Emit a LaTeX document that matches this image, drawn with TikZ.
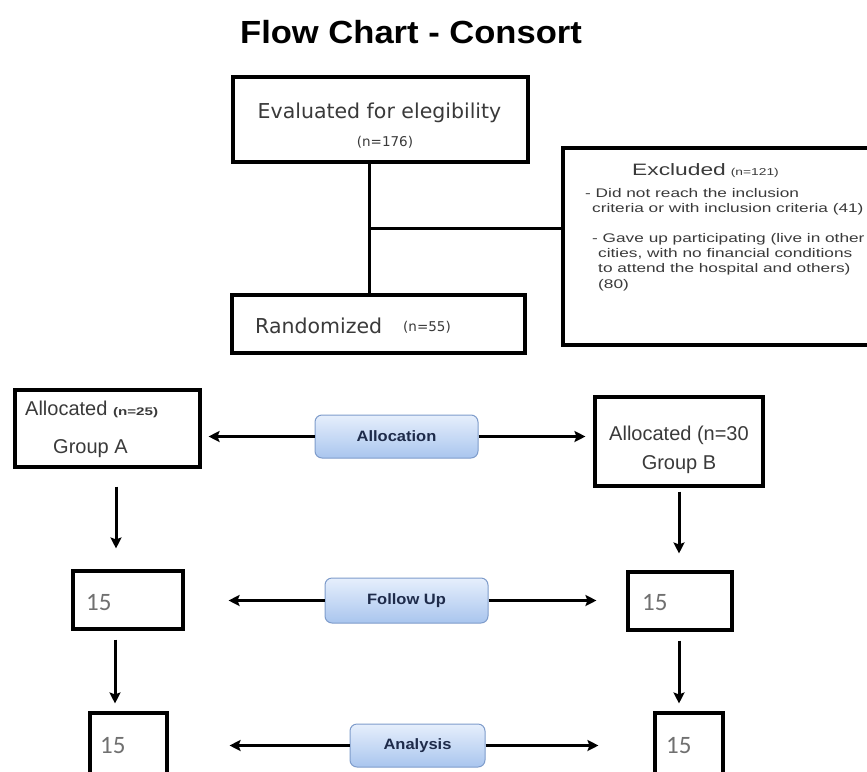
\documentclass[tikz,border=0pt]{standalone}
\usepackage{fontspec}
\setmainfont{Liberation Sans}
\newfontfamily\titlefont[FakeStretch=1.08]{Liberation Sans}
\newfontfamily\verdfont{DejaVu Sans}
\newfontfamily\widefont[FakeStretch=1.38]{Liberation Sans}
\newfontfamily\pillfont[FakeStretch=1.1]{Liberation Sans}
\newfontfamily\calfont{Carlito}
\usetikzlibrary{arrows.meta}
\definecolor{pilltop}{HTML}{E6EFFC}
\definecolor{pillbot}{HTML}{A9C5EE}
\definecolor{pillline}{HTML}{7E9CCB}
\definecolor{pilltext}{HTML}{1E2B4A}
\definecolor{boxtext}{HTML}{3A3A3A}
\definecolor{numtext}{HTML}{707070}
\begin{document}
\begin{tikzpicture}[x=1pt,y=-1pt,
  box/.style={draw, line width=3.1pt, inner sep=0pt},
  pill/.style={draw=pillline, line width=1pt, rounded corners=7pt, top color=pilltop, bottom color=pillbot,
    inner sep=0pt, text=pilltext, font=\pillfont\bfseries\fontsize{15}{15}\selectfont},
  ln/.style={line width=3pt},
  arr/.style={line width=3pt, -{Stealth[length=11pt,width=11pt,inset=2pt]}},
  txt/.style={inner sep=0pt, text=boxtext},
  num/.style={inner sep=0pt, text=numtext, font=\calfont\fontsize{25}{25}\selectfont}]
\useasboundingbox (0,0) rectangle (867,771);
\fill[white] (0,0) rectangle (867,771);
\clip (0,0) rectangle (867,771);

% title
\node[inner sep=0pt, font=\titlefont\bfseries\fontsize{32}{32}\selectfont] (title) at (411,32) {Flow Chart - Consort};

% top boxes
\node[box, minimum width=295pt, minimum height=85pt] (eval) at (380.5,119.5) {};
\node[txt, anchor=base, font=\verdfont\fontsize{20.5}{20.5}\selectfont] (evtxt) at (379.5,118) {Evaluated for elegibility};
\node[txt, anchor=base, font=\verdfont\fontsize{13.5}{13.5}\selectfont] (evn) at (385,146) {(n=176)};

\node[box, minimum width=293pt, minimum height=58pt] (rand) at (378.5,324) {};
\node[txt, anchor=base west, font=\verdfont\fontsize{20.5}{20.5}\selectfont] (randtxt) at (255,333) {Randomized};
\node[txt, anchor=base west, font=\verdfont\fontsize{13.5}{13.5}\selectfont] (randn) at (403,331) {(n=55)};

\node[box, minimum width=322pt, minimum height=197pt] (excl) at (724,246.5) {};
\node[txt, anchor=base west, font=\widefont\fontsize{13}{13}\selectfont] (extxt) at (632,175)
  {{\fontsize{16.5}{16.5}\selectfont Excluded} {\fontsize{10}{10}\selectfont (n=121)}};
\node[txt, anchor=north west, align=left, font=\widefont\fontsize{12.5}{15}\selectfont] (exA) at (585,188)
  {- Did not reach the inclusion\\\hspace*{7pt}criteria or with inclusion criteria (41)};
\node[txt, anchor=north west, align=left, font=\widefont\fontsize{12.5}{15.3}\selectfont] (exB) at (592,233)
  {- Gave up participating (live in other\\\hspace*{6pt}cities, with no financial conditions\\\hspace*{6pt}to attend the hospital and others)\\\hspace*{6pt}(80)};

% draw
\path (369,228) coordinate (junc);
\draw[ln] ([xshift=-11.5pt]eval.south) -- ([xshift=-11.5pt]eval.south |- rand.north);
\draw[ln] (junc) -- (junc -| excl.west);

% allocation row
\node[box, minimum width=185pt, minimum height=77pt] (grpA) at (107.5,428.5) {};
\node[txt, anchor=base west, font=\fontsize{20}{20}\selectfont] (grpAtop) at (25,415)
  {Allocated {\widefont\fontsize{11}{11}\selectfont\bfseries (n=25)}};
\node[txt, anchor=base west, font=\fontsize{20}{20}\selectfont] (grpAbot) at (53,453) {Group A};

\node[box, minimum width=168pt, minimum height=89pt] (grpB) at (679,441.5) {};
\node[txt, anchor=north, align=center, font=\fontsize{20}{29}\selectfont] (grpBtxt) at (679,426)
  {Allocated (n=30\\Group B};

\node[pill, minimum width=163pt, minimum height=43pt] (alloc) at (396.5,436.5) {Allocation};
\draw[arr, shorten >=7pt] (alloc.west) -- (alloc.west -| grpA.east);
\draw[arr, shorten >=8pt] (alloc.east) -- (alloc.east -| grpB.west);

% follow up row
\node[box, minimum width=110pt, minimum height=58pt] (fuA) at (128,600) {};
\node[num, anchor=base west] (fuAtxt) at (86,610) {15};
\node[box, minimum width=104pt, minimum height=58pt] (fuB) at (680,601) {};
\node[num, anchor=base west] (fuBtxt) at (642,610) {15};

\node[pill, minimum width=163pt, minimum height=45pt] (fu) at (406.5,600.5) {Follow Up};
\draw[arr, shorten >=44pt] (fu.west) -- (fu.west -| fuA.east);
\draw[arr, shorten >=30pt] (fu.east) -- (fu.east -| fuB.west);

\draw[arr, shorten <=18pt, shorten >=21pt] ([xshift=8.5pt]grpA.south) -- ([xshift=8.5pt]grpA.south |- fuA.north);
\draw[arr, shorten <=4pt, shorten >=17pt] (grpB.south) -- (grpB.south |- fuB.north);

% analysis row
\node[box, minimum width=77pt, minimum height=80pt] (anA) at (128.5,753) {};
\node[num, anchor=base west] (anAtxt) at (100,753) {15};
\node[box, minimum width=68pt, minimum height=80pt] (anB) at (689,753) {};
\node[num, anchor=base west] (anBtxt) at (666,753) {15};

\node[pill, minimum width=135pt, minimum height=43pt] (an) at (417.5,745.5) {Analysis};
\draw[arr, shorten >=61pt] (an.west) -- (an.west -| anA.east);
\draw[arr, shorten >=55pt] (an.east) -- (an.east -| anB.west);

\draw[arr, shorten <=9pt, shorten >=8pt] ([xshift=-13pt]fuA.south) -- ([xshift=-13pt]fuA.south |- anA.north);
\draw[arr, shorten <=9pt, shorten >=8pt] ([xshift=-1pt]fuB.south) -- ([xshift=-1pt]fuB.south |- anB.north);
\end{tikzpicture}
\end{document}
